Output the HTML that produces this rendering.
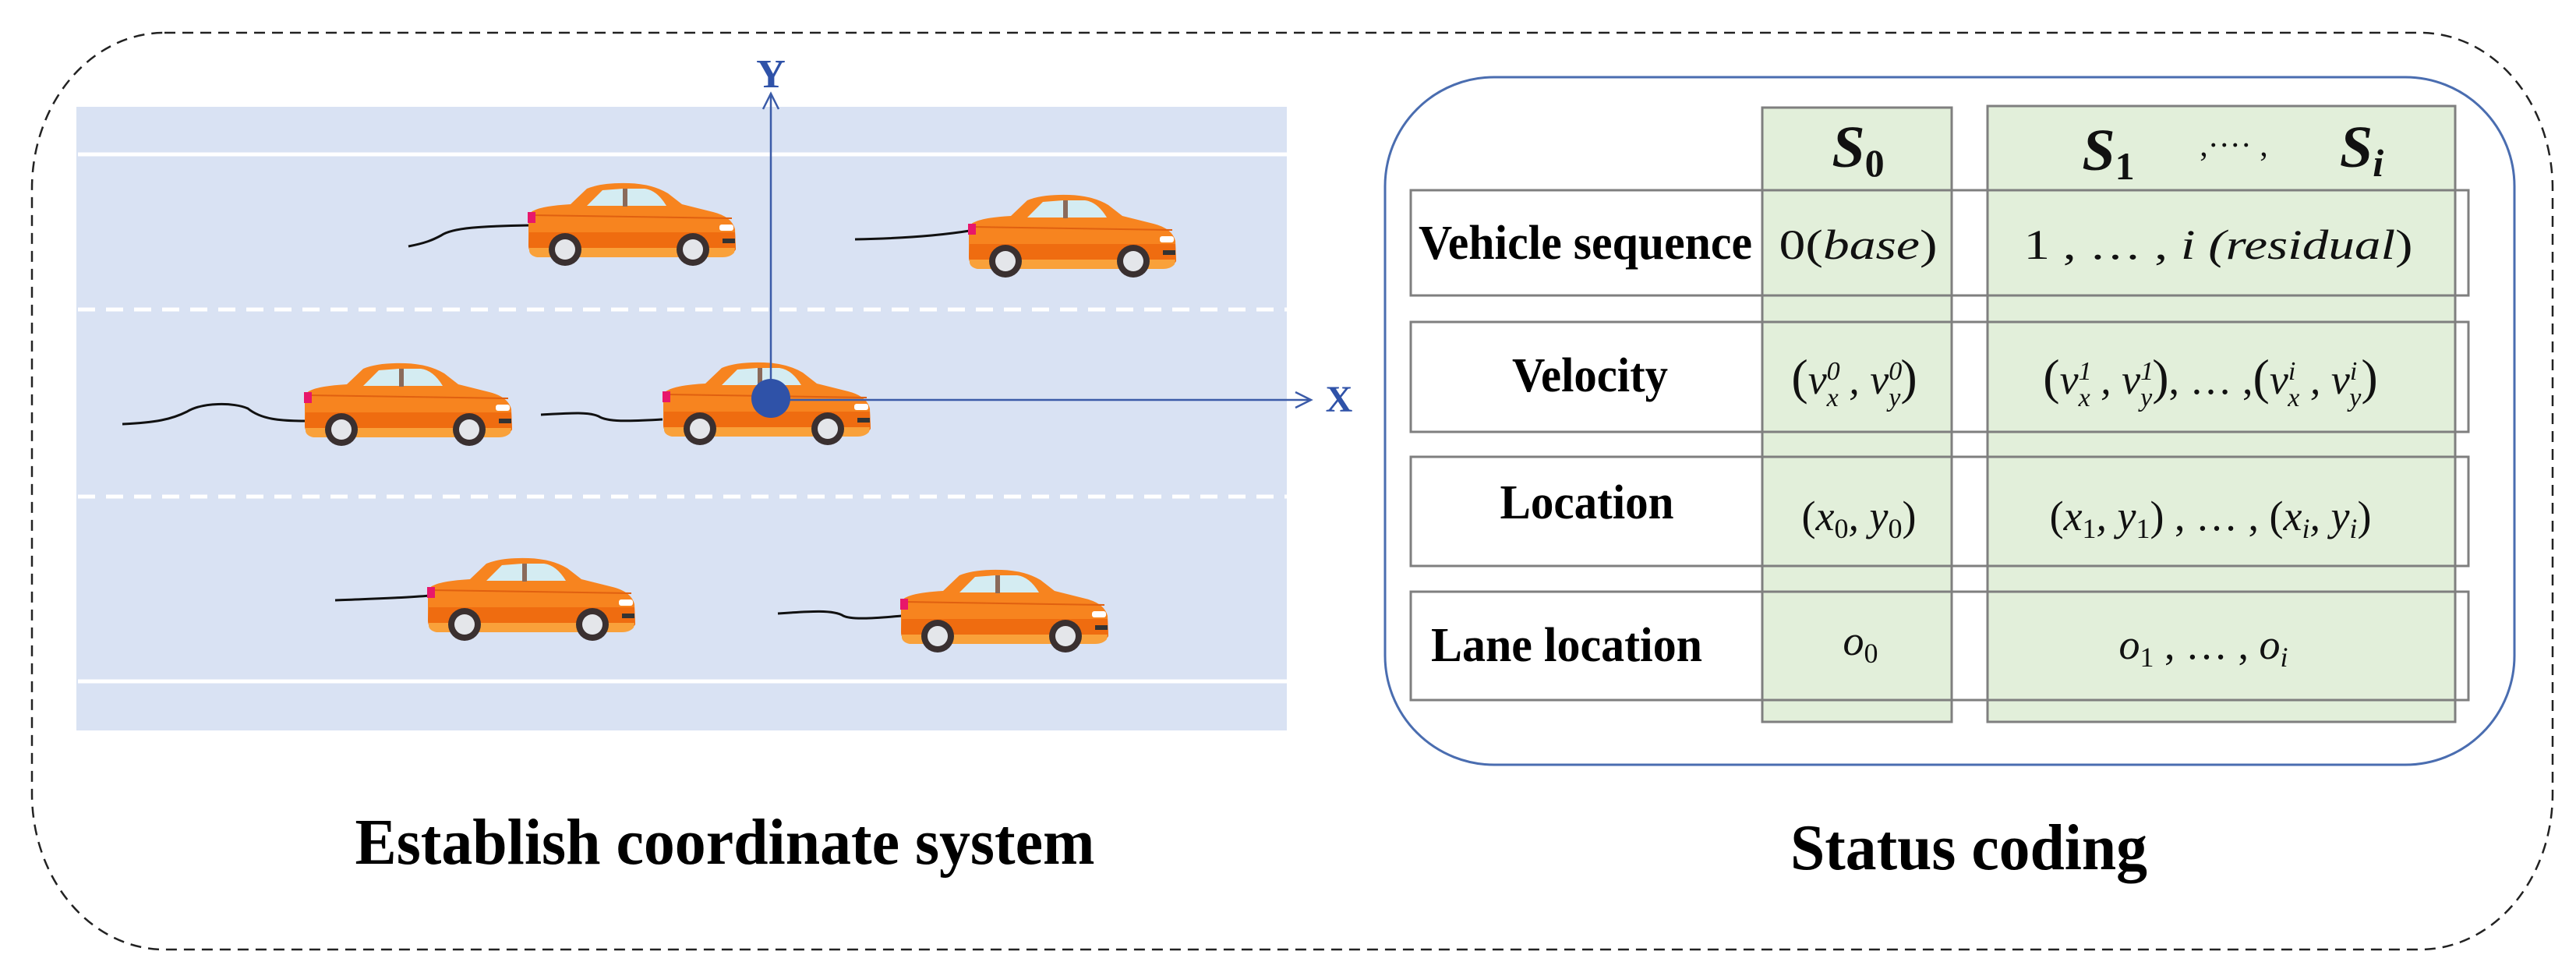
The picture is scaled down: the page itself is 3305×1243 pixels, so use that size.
<!DOCTYPE html>
<html><head><meta charset="utf-8"><style>
html,body{margin:0;padding:0;background:#fff;}
svg{display:block;}
.lbl{font-family:"Liberation Serif",serif;font-weight:bold;fill:#000;}
.m{font-family:"Liberation Serif",serif;font-style:italic;fill:#111;font-size:54px;}
.u{font-style:normal;}
</style></head><body>
<svg width="3305" height="1243" viewBox="0 0 3305 1243" xmlns="http://www.w3.org/2000/svg">
<defs>
<g id="car">
  <path d="M8,34 Q20,28 55,26 L76,6 Q95,-2 130,-1 Q160,0 180,12 L198,26 L238,36 Q262,42 266,58 L267,84 Q262,92 250,92 L12,92 Q1,90 1,78 L1,44 Q2,36 8,34 Z" fill="#f7841f"/>
  <path d="M2,62 L266,62 L267,84 Q262,92 250,92 L12,92 Q1,90 1,78 Z" fill="#ef6c10"/>
  <path d="M2,82 L266,82 L265,88 Q260,94 250,94 L12,94 Q3,92 2,86 Z" fill="#f9a13a"/>
  <path d="M6,40 L262,44" stroke="#e06010" stroke-width="2" fill="none"/>
  <path d="M76,28 L96,8 L122,6 L122,28 Z" fill="#d4ecf2"/>
  <path d="M128,6 L150,6 Q166,8 178,28 L128,28 Z" fill="#d4ecf2"/>
  <rect x="122" y="6" width="6" height="23" fill="#8a6a5a"/>
  <rect x="0" y="36" width="10" height="14" fill="#e8176a"/>
  <rect x="246" y="52" width="18" height="8" rx="3" fill="#fff"/>
  <rect x="250" y="70" width="16" height="6" fill="#333"/>
  <circle cx="48" cy="84" r="21" fill="#3a3030"/>
  <circle cx="48" cy="84" r="13" fill="#e4e6ea"/>
  <circle cx="212" cy="84" r="21" fill="#3a3030"/>
  <circle cx="212" cy="84" r="13" fill="#e4e6ea"/>
</g>
</defs>

<rect x="41" y="42" width="3234" height="1176" rx="170" ry="200" fill="none" stroke="#222" stroke-width="2.5" stroke-dasharray="14,9"/>

<rect x="98" y="137" width="1553" height="800" fill="#d9e2f3"/>
<line x1="100" y1="198" x2="1651" y2="198" stroke="#fff" stroke-width="5"/>
<line x1="100" y1="874" x2="1651" y2="874" stroke="#fff" stroke-width="5"/>
<line x1="100" y1="397" x2="1651" y2="397" stroke="#fff" stroke-width="5" stroke-dasharray="22,14"/>
<line x1="100" y1="637" x2="1651" y2="637" stroke="#fff" stroke-width="5" stroke-dasharray="22,14"/>

<g fill="none" stroke="#111" stroke-width="3">
<path d="M524,316 C545,312 555,308 566,302 C580,292 620,290 680,289"/>
<path d="M1097,307 C1150,306 1200,303 1244,296"/>
<path d="M157,544 C200,542 220,538 240,528 C260,516 300,516 318,524 C335,538 360,540 392,540"/>
<path d="M694,532 C730,530 755,528 768,534 C780,542 810,540 850,538"/>
<path d="M430,770 C480,768 520,767 551,764"/>
<path d="M998,787 C1040,784 1070,782 1082,790 C1095,796 1130,792 1158,790"/>
</g>

<use href="#car" x="677" y="236"/>
<use href="#car" x="1242" y="251"/>
<use href="#car" x="390" y="467"/>
<use href="#car" x="850" y="466"/>
<use href="#car" x="548" y="717"/>
<use href="#car" x="1155" y="732"/>

<g stroke="#3b5ba8" stroke-width="2.5" fill="none">
<line x1="989" y1="513" x2="989" y2="120"/>
<polyline points="979,140 989,120 999,140"/>
<line x1="989" y1="513" x2="1680" y2="513"/>
<polyline points="1662,503 1682,513 1662,523"/>
</g>
<circle cx="989" cy="511" r="25" fill="#2f52a8"/>
<text x="989" y="112" text-anchor="middle" class="lbl" font-size="52" style="fill:#2f52a8">Y</text>
<text x="1718" y="528" text-anchor="middle" class="lbl" font-size="48" style="fill:#2f52a8">X</text>

<text x="930" y="1108" text-anchor="middle" class="lbl" font-size="84" textLength="949" lengthAdjust="spacingAndGlyphs">Establish coordinate system</text>

<rect x="1777" y="99" width="1449" height="882" rx="140" fill="none" stroke="#4a6db0" stroke-width="3"/>

<rect x="2261" y="138" width="243" height="788" fill="#e2efda" stroke="#7f7f7f" stroke-width="3"/>
<rect x="2550" y="136" width="600" height="790" fill="#e2efda" stroke="#7f7f7f" stroke-width="3"/>

<g stroke="#7f7f7f" stroke-width="3">
<rect x="1810" y="244" width="451" height="135" fill="#fff"/>
<rect x="2261" y="244" width="906" height="135" fill="none"/>
<rect x="1810" y="413" width="451" height="141" fill="#fff"/>
<rect x="2261" y="413" width="906" height="141" fill="none"/>
<rect x="1810" y="586" width="451" height="140" fill="#fff"/>
<rect x="2261" y="586" width="906" height="140" fill="none"/>
<rect x="1810" y="759" width="451" height="139" fill="#fff"/>
<rect x="2261" y="759" width="906" height="139" fill="none"/>
</g>
<g stroke="#7f7f7f" stroke-width="3">
<line x1="2504" y1="138" x2="2504" y2="926"/>
<line x1="2550" y1="136" x2="2550" y2="926"/>
<line x1="3150" y1="136" x2="3150" y2="926"/>
</g>
<g fill="#fff">
<rect x="2506" y="246" width="42" height="131"/>
<rect x="2506" y="415" width="42" height="137"/>
<rect x="2506" y="588" width="42" height="136"/>
<rect x="2506" y="761" width="42" height="135"/>
</g>

<text x="2384" y="214" text-anchor="middle" class="m" style="font-size:76px;font-weight:bold">S<tspan class="u" font-size="50" dy="12">0</tspan></text>
<text x="2705" y="218" text-anchor="middle" class="m" style="font-size:76px;font-weight:bold">S<tspan class="u" font-size="50" dy="12">1</tspan></text>
<text x="2866" y="200" text-anchor="middle" class="m u" style="font-size:42px;font-style:normal">,···· ,</text>
<text x="3030" y="214" text-anchor="middle" class="m" style="font-size:76px;font-weight:bold">S<tspan font-size="50" dy="12">i</tspan></text>

<text x="2034" y="332" text-anchor="middle" class="lbl" font-size="62" textLength="428" lengthAdjust="spacingAndGlyphs">Vehicle sequence</text>
<text x="2040" y="502" text-anchor="middle" class="lbl" font-size="62" textLength="200" lengthAdjust="spacingAndGlyphs">Velocity</text>
<text x="2036" y="665" text-anchor="middle" class="lbl" font-size="62" textLength="223" lengthAdjust="spacingAndGlyphs">Location</text>
<text x="2010" y="848" text-anchor="middle" class="lbl" font-size="62" textLength="348" lengthAdjust="spacingAndGlyphs">Lane location</text>

<text x="2384" y="332" text-anchor="middle" class="m" textLength="203" lengthAdjust="spacingAndGlyphs"><tspan class="u">0(</tspan>base<tspan class="u">)</tspan></text>
<text x="2846" y="332" text-anchor="middle" class="m" textLength="499" lengthAdjust="spacingAndGlyphs"><tspan class="u">1  , … ,  </tspan>i (residual<tspan class="u">)</tspan></text>

<text x="2379" y="505" text-anchor="middle" class="m"><tspan class="u" font-size="64">(</tspan>v<tspan font-size="34" dy="-18">0</tspan><tspan font-size="34" dx="-17" dy="34">x</tspan><tspan dy="-16"> , v</tspan><tspan font-size="34" dy="-18">0</tspan><tspan font-size="34" dx="-17" dy="34">y</tspan><tspan class="u" font-size="64" dy="-16">)</tspan></text>
<text x="2836" y="505" text-anchor="middle" class="m"><tspan class="u" font-size="64">(</tspan>v<tspan font-size="34" dy="-18">1</tspan><tspan font-size="34" dx="-17" dy="34">x</tspan><tspan dy="-16"> , v</tspan><tspan font-size="34" dy="-18">1</tspan><tspan font-size="34" dx="-17" dy="34">y</tspan><tspan class="u" font-size="64" dy="-16">)</tspan><tspan class="u">, … ,</tspan><tspan class="u" font-size="64">(</tspan>v<tspan font-size="34" dy="-18">i</tspan><tspan font-size="34" dx="-10" dy="34">x</tspan><tspan dy="-16"> , v</tspan><tspan font-size="34" dy="-18">i</tspan><tspan font-size="34" dx="-10" dy="34">y</tspan><tspan class="u" font-size="64" dy="-16">)</tspan></text>

<text x="2385" y="680" text-anchor="middle" class="m"><tspan class="u">(</tspan>x<tspan class="u" font-size="36" dy="10">0</tspan><tspan dy="-10">, y</tspan><tspan class="u" font-size="36" dy="10">0</tspan><tspan class="u" dy="-10">)</tspan></text>
<text x="2836" y="680" text-anchor="middle" class="m"><tspan class="u">(</tspan>x<tspan class="u" font-size="36" dy="10">1</tspan><tspan dy="-10">, y</tspan><tspan class="u" font-size="36" dy="10">1</tspan><tspan class="u" dy="-10">)  , … , (</tspan>x<tspan font-size="36" dy="10">i</tspan><tspan dy="-10">, y</tspan><tspan font-size="36" dy="10">i</tspan><tspan class="u" dy="-10">)</tspan></text>

<text x="2387" y="840" text-anchor="middle" class="m">o<tspan class="u" font-size="36" dy="10">0</tspan></text>
<text x="2827" y="845" text-anchor="middle" class="m">o<tspan class="u" font-size="36" dy="10">1</tspan><tspan class="u" dy="-10">  , … ,  </tspan>o<tspan font-size="36" dy="10">i</tspan></text>

<text x="2526" y="1115" text-anchor="middle" class="lbl" font-size="84" textLength="458" lengthAdjust="spacingAndGlyphs">Status coding</text>
</svg>
</body></html>
